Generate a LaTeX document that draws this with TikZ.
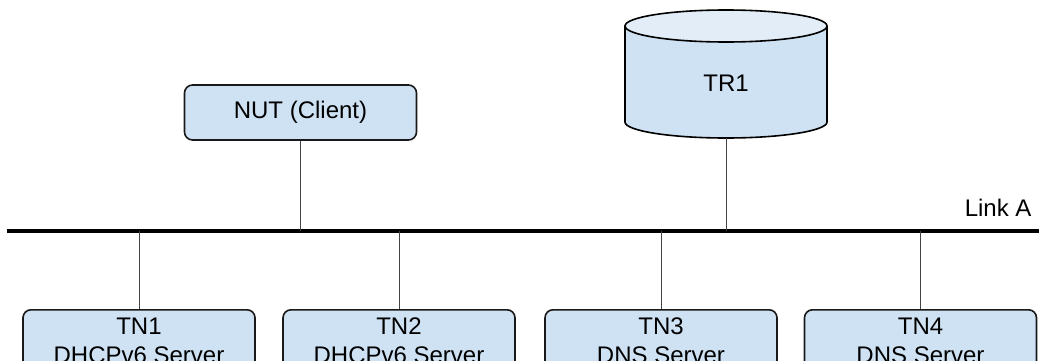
\documentclass[tikz,border=0pt]{standalone}
\usepackage{fontspec}
\setmainfont{Liberation Sans}
\usepackage{xcolor}
\usetikzlibrary{calc,positioning}
\definecolor{blue1}{HTML}{CFE2F3}
\definecolor{blue2}{HTML}{E2EDF8}
\definecolor{gray1}{HTML}{444444}

\tikzset{
  box/.style={draw=black!90,line width=1.6pt,rounded corners=8pt,fill=blue1,
    minimum width=232,align=center,inner sep=3pt,
    font=\fontsize{24}{29}\selectfont},
  wire/.style={draw=gray1,line width=1pt},
  bus/.style={draw=black,line width=4.2pt}
}

\begin{document}
\begin{tikzpicture}[x=1pt,y=1pt]
\useasboundingbox (0,0) rectangle (1039,360);

% the link
\coordinate (busL) at (7,129);
\coordinate (busR) at (1045,129);
\draw[bus] (busL) -- (busR);
\node at (1035,152)[anchor=east,font=\fontsize{24}{29}\selectfont] (linkA) {Link A};

% NUT
\node at (300.5,247.5)[box,minimum height=55] (nut) {NUT (Client)};

% TR1
\begin{scope}[line width=1.6pt]
\draw[fill=blue1] (625,334) -- (625,238) arc[start angle=180,end angle=360,x radius=101,y radius=16] -- (827,334);
\draw[fill=blue2] (726,334) ellipse[x radius=101,y radius=16];
\end{scope}
\node at (726,277)[font=\fontsize{24}{29}\selectfont] (tr1) {TR1};
\coordinate (tr1base) at (726,222);

% test nodes
\node at (139,51)[box,anchor=north,minimum height=62] (tn1) {TN1\\DHCPv6 Server};
\node at (399,51)[box,anchor=north,minimum height=62] (tn2) {TN2\\DHCPv6 Server};
\node at (661,51)[box,anchor=north,minimum height=62] (tn3) {TN3\\DNS Server};
\node at (920.5,51)[box,anchor=north,minimum height=62] (tn4) {TN4\\DNS Server};

% wires
\draw[wire] (nut.south) -- (nut.south |- busL);
\draw[wire] (tr1base) -- (tr1base |- busL);
\foreach \n in {tn1,tn2,tn3,tn4}
  \draw[wire] (\n.north) -- (\n.north |- busL);

\end{tikzpicture}
\end{document}
